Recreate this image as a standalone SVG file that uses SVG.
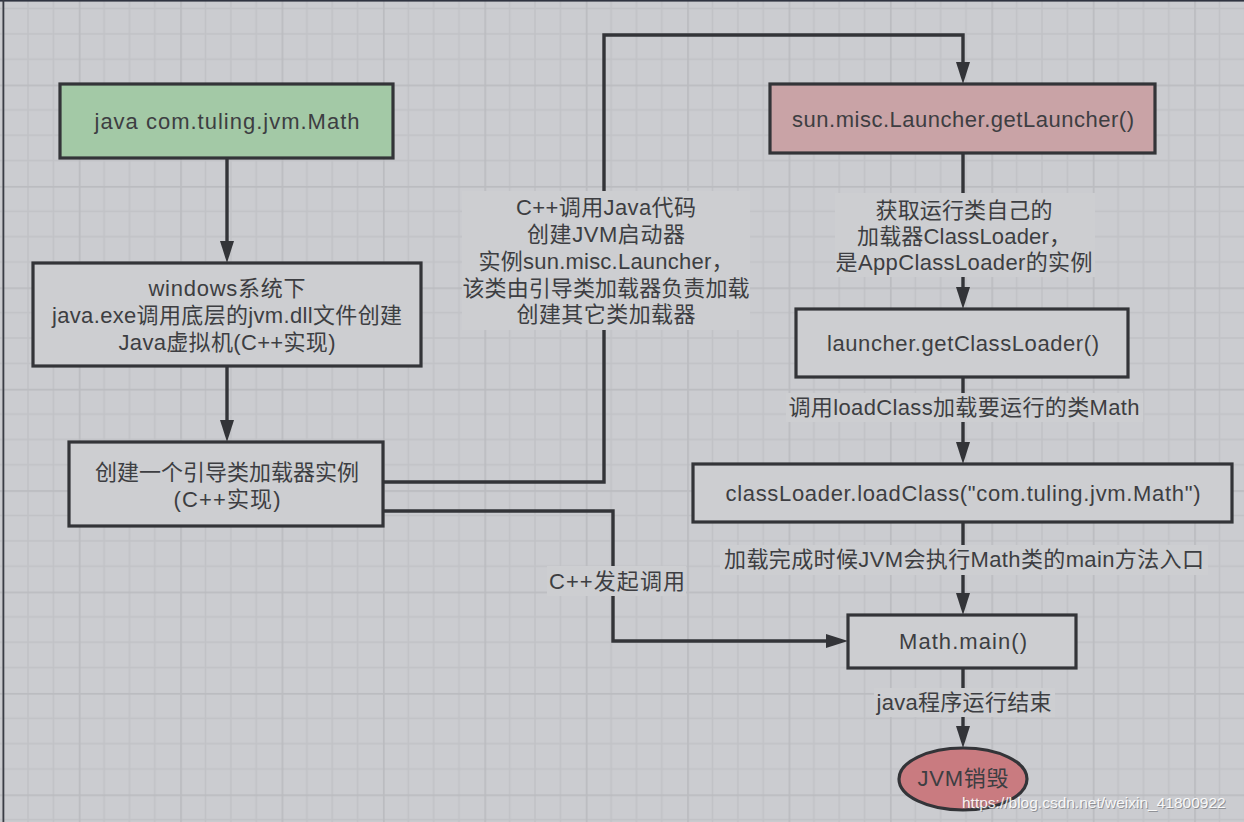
<svg xmlns="http://www.w3.org/2000/svg" width="1244" height="822" viewBox="0 0 1244 822">
<style>
.box{stroke:#333438;stroke-width:3.2}
.g{fill:#cdced1}
.t{font-family:"Liberation Sans","Noto Sans CJK SC",sans-serif;font-size:22px;fill:#3d3e42;text-anchor:middle;dominant-baseline:central}
.c{fill:none;stroke:#333438;stroke-width:3.4}
.lb{fill:#cdced1}
.wm{font-family:"Liberation Sans",Arial,sans-serif;font-size:15.5px}
</style>
<defs>
<pattern id="grid" patternUnits="userSpaceOnUse" x="-22.65" y="-16.85" width="101.4" height="101.4">
<rect width="101.4" height="101.4" fill="#cbccd0"/>
<path d="M25.35 0V101.4M50.7 0V101.4M76.05 0V101.4M0 25.35H101.4M0 50.7H101.4M0 76.05H101.4" stroke="#c1c2c6" stroke-width="1.5"/>
<path d="M0.75 0V101.4M0 0.75H101.4" stroke="#bbbcc0" stroke-width="2"/>
</pattern>
<marker id="arr" markerUnits="userSpaceOnUse" markerWidth="22" markerHeight="14" refX="0" refY="7" orient="auto" overflow="visible">
<path d="M0 0L22 7L0 14z" fill="#333438"/>
</marker>
</defs>
<rect width="1244" height="822" fill="url(#grid)"/>
<rect x="0" y="0" width="1244" height="1.6" fill="#2f3340"/>
<rect x="2.5" y="0" width="1.8" height="822" fill="#3a3d45"/>

<g id="connectors">
<path class="c" d="M227 158V241" marker-end="url(#arr)"/>
<path class="c" d="M227 366V420" marker-end="url(#arr)"/>
<path class="c" d="M383 482H604V35H963V62" marker-end="url(#arr)"/>
<path class="c" d="M383 511H613V641H826" marker-end="url(#arr)"/>
<path class="c" d="M963 153V287" marker-end="url(#arr)"/>
<path class="c" d="M963 377V442" marker-end="url(#arr)"/>
<path class="c" d="M963 522V593" marker-end="url(#arr)"/>
<path class="c" d="M963 668V726" marker-end="url(#arr)"/>
<rect class="lb" x="462" y="191" width="288" height="139"/>
<text class="t" x="606" y="207" textLength="180" lengthAdjust="spacing">C++调用Java代码</text>
<text class="t" x="606" y="234" textLength="158" lengthAdjust="spacing">创建JVM启动器</text>
<text class="t" x="606" y="261" textLength="255" lengthAdjust="spacing">实例sun.misc.Launcher，</text>
<text class="t" x="606" y="288" textLength="287" lengthAdjust="spacing">该类由引导类加载器负责加载</text>
<text class="t" x="606" y="314" textLength="179" lengthAdjust="spacing">创建其它类加载器</text>
<rect class="lb" x="547" y="566" width="139" height="30"/>
<text class="t" x="617" y="581" textLength="136" lengthAdjust="spacing">C++发起调用</text>
<rect class="lb" x="835" y="193" width="260" height="84"/>
<text class="t" x="964" y="210" textLength="177" lengthAdjust="spacing">获取运行类自己的</text>
<text class="t" x="964" y="236" textLength="214" lengthAdjust="spacing">加载器ClassLoader，</text>
<text class="t" x="964" y="262" textLength="257" lengthAdjust="spacing">是AppClassLoader的实例</text>
<rect class="lb" x="786" y="393" width="357" height="29"/>
<text class="t" x="964" y="407" textLength="351" lengthAdjust="spacing">调用loadClass加载要运行的类Math</text>
<rect class="lb" x="720" y="545" width="488" height="30"/>
<text class="t" x="964" y="559" textLength="480" lengthAdjust="spacing">加载完成时候JVM会执行Math类的main方法入口</text>
<rect class="lb" x="874" y="688" width="181" height="29"/>
<text class="t" x="964" y="702" textLength="175" lengthAdjust="spacing">java程序运行结束</text>
</g>

<g id="n1"><rect class="box" x="60" y="84" width="333" height="74" fill="#a3c9a6"/><text class="t" x="227" y="121" textLength="265" lengthAdjust="spacing">java com.tuling.jvm.Math</text></g>
<g id="n2"><rect class="box g" x="33" y="263" width="388" height="103"/>
<text class="t" x="227" y="288" textLength="157" lengthAdjust="spacing">windows系统下</text>
<text class="t" x="227" y="315" textLength="350" lengthAdjust="spacing">java.exe调用底层的jvm.dll文件创建</text>
<text class="t" x="227" y="342" textLength="217" lengthAdjust="spacing">Java虚拟机(C++实现)</text></g>
<g id="n3"><rect class="box g" x="69" y="442" width="314" height="84"/>
<text class="t" x="227" y="472" textLength="264" lengthAdjust="spacing">创建一个引导类加载器实例</text>
<text class="t" x="227" y="499" textLength="107" lengthAdjust="spacing">(C++实现)</text></g>
<g id="n4"><rect class="box" x="770" y="84" width="385" height="69" fill="#c9a3a6"/><text class="t" x="963" y="119" textLength="342" lengthAdjust="spacing">sun.misc.Launcher.getLauncher()</text></g>
<g id="n5"><rect class="box g" x="796" y="309" width="332" height="68"/><text class="t" x="963" y="343" textLength="272" lengthAdjust="spacing">launcher.getClassLoader()</text></g>
<g id="n6"><rect class="box g" x="693" y="464" width="539" height="58"/><text class="t" x="963" y="493" textLength="475" lengthAdjust="spacing">classLoader.loadClass("com.tuling.jvm.Math")</text></g>
<g id="n7"><rect class="box g" x="848" y="615" width="228" height="53"/><text class="t" x="963" y="641" textLength="128" lengthAdjust="spacing">Math.main()</text></g>
<g id="n8"><ellipse class="box" cx="963" cy="779" rx="64" ry="31" fill="#c97b80"/><text class="t" x="963" y="778" textLength="91" lengthAdjust="spacing">JVM销毁</text></g>

<text class="wm" x="963" y="809" fill="#6a6b70" opacity="0.6">https://blog.csdn.net/weixin_41800922</text>
<text class="wm" x="962" y="808" fill="#ffffff" opacity="0.9">https://blog.csdn.net/weixin_41800922</text>
</svg>
